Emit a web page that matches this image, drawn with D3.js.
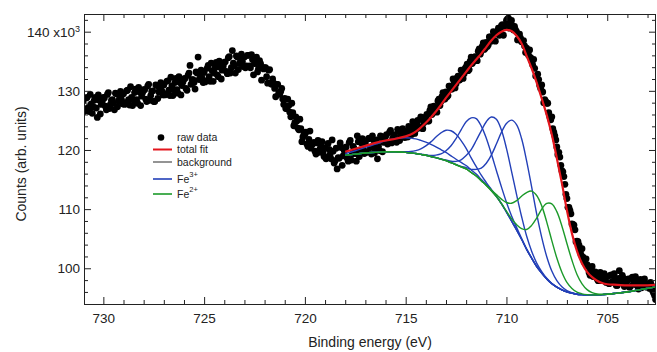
<!DOCTYPE html>
<html lang="en">
<head>
<meta charset="UTF-8">
<title>Fe 2p3/2 fit</title>
<script src="https://cdn.jsdelivr.net/npm/d3@7"></script>
<style>
    body { margin: 0; background: #fff; }
    svg { display: block; font-family: "Liberation Sans", Arial, sans-serif; }
    g.axis path.domain { display: none; }
    g.axis line { stroke: #222; }
    g.axis text { font-size: 13.5px; fill: #222; }
</style>
</head>
<body>
<svg width="657" height="352"></svg>
<script>
    // raw data, binding energy (eV) and counts (x10^3), two interleaved scans
    const rawEnergy = [
        731.0,730.9,730.8,730.7,730.6,730.5,730.4,730.3,730.2,730.1,
        730.0,729.9,729.8,729.7,729.6,729.5,729.4,729.3,729.2,729.1,
        729.0,728.9,728.8,728.7,728.6,728.5,728.4,728.3,728.2,728.1,
        728.0,727.9,727.8,727.7,727.6,727.5,727.4,727.3,727.2,727.1,
        727.0,726.9,726.8,726.7,726.6,726.5,726.4,726.3,726.2,726.1,
        726.0,725.9,725.8,725.7,725.6,725.5,725.4,725.3,725.2,725.1,
        725.0,724.9,724.8,724.7,724.6,724.5,724.4,724.3,724.2,724.1,
        724.0,723.9,723.8,723.7,723.6,723.5,723.4,723.3,723.2,723.1,
        723.0,722.9,722.8,722.7,722.6,722.5,722.4,722.3,722.2,722.1,
        722.0,721.9,721.8,721.7,721.6,721.5,721.4,721.3,721.2,721.1,
        721.0,720.9,720.8,720.7,720.6,720.5,720.4,720.3,720.2,720.1,
        720.0,719.9,719.8,719.7,719.6,719.5,719.4,719.3,719.2,719.1,
        719.0,718.9,718.8,718.7,718.6,718.5,718.4,718.3,718.2,718.1,
        718.0,717.9,717.8,717.7,717.6,717.5,717.4,717.3,717.2,717.1,
        717.0,716.9,716.8,716.7,716.6,716.5,716.4,716.3,716.2,716.1,
        716.0,715.9,715.8,715.7,715.6,715.5,715.4,715.3,715.2,715.1,
        715.0,714.9,714.8,714.7,714.6,714.5,714.4,714.3,714.2,714.1,
        714.0,713.9,713.8,713.7,713.6,713.5,713.4,713.3,713.2,713.1,
        713.0,712.9,712.8,712.7,712.6,712.5,712.4,712.3,712.2,712.1,
        712.0,711.9,711.8,711.7,711.6,711.5,711.4,711.3,711.2,711.1,
        711.0,710.9,710.8,710.7,710.6,710.5,710.4,710.3,710.2,710.1,
        710.0,709.9,709.8,709.7,709.6,709.5,709.4,709.3,709.2,709.1,
        709.0,708.9,708.8,708.7,708.6,708.5,708.4,708.3,708.2,708.1,
        708.0,707.9,707.8,707.7,707.6,707.5,707.4,707.3,707.2,707.1,
        707.0,706.9,706.8,706.7,706.6,706.5,706.4,706.3,706.2,706.1,
        706.0,705.9,705.8,705.7,705.6,705.5,705.4,705.3,705.2,705.1,
        705.0,704.9,704.8,704.7,704.6,704.5,704.4,704.3,704.2,704.1,
        704.0,703.9,703.8,703.7,703.6,703.5,703.4,703.3,703.2,703.1,
        703.0,702.9,702.8,702.7,702.6
    ];
    const rawCounts = [
        128.3,126.9,128.9,126.5,127.8,127.3,128.9,125.5,128.4,127.7,
        128.9,127.4,129.4,127.0,128.4,127.9,129.6,127.3,129.1,128.5,
        129.5,128.0,130.1,127.6,128.9,128.5,130.3,127.9,129.8,129.1,
        130.2,128.6,130.8,128.4,129.9,128.2,131.0,128.7,130.4,130.0,
        131.0,129.5,131.7,129.2,130.8,130.2,132.1,129.6,131.4,130.9,
        132.0,130.4,132.6,134.3,131.9,131.4,133.2,135.7,132.7,132.1,
        133.1,131.7,134.3,131.6,133.4,133.0,134.8,132.4,134.0,133.5,
        134.8,133.3,135.6,133.0,136.8,134.2,135.9,133.6,135.4,134.9,
        135.7,134.2,136.0,133.9,135.3,134.6,135.7,133.8,134.6,133.9,
        133.9,132.4,133.5,131.3,132.0,130.4,131.1,129.6,129.9,128.6,
        128.7,127.0,127.5,125.6,126.3,124.6,124.9,123.4,123.6,122.2,
        122.6,121.0,121.8,120.3,121.1,119.8,121.2,119.6,120.7,119.5,
        120.4,118.7,120.1,118.5,119.8,118.2,116.8,118.6,120.4,119.0,
        120.4,118.6,121.3,118.3,120.6,119.4,122.4,118.9,121.2,120.1,
        121.2,119.7,122.0,119.3,121.7,120.4,118.5,119.9,122.1,121.3,
        122.3,121.0,123.0,121.2,122.6,121.8,123.5,121.6,123.1,122.4,
        123.1,122.2,123.8,122.6,124.0,123.4,125.0,123.7,125.2,124.6,
        125.6,124.9,126.7,126.0,127.4,126.8,128.3,127.5,129.0,128.6,
        129.8,129.2,130.8,130.3,131.6,131.2,132.5,131.9,133.4,132.9,
        134.0,133.4,135.0,134.6,135.7,135.3,136.7,136.2,137.5,137.0,
        138.2,137.8,139.1,138.8,139.8,139.6,140.6,140.4,141.2,141.0,
        141.9,142.3,141.4,141.0,140.9,140.0,139.6,138.9,138.3,137.6,
        137.2,136.0,135.6,134.4,133.8,132.5,131.9,130.4,129.8,128.5,
        127.9,126.3,125.1,123.6,122.4,120.5,119.6,117.4,116.3,114.2,
        111.8,110.3,109.2,107.4,106.5,104.6,103.9,102.3,101.9,100.8,
        100.6,99.3,100.0,98.6,99.4,98.2,99.1,97.9,98.8,98.0,
        98.6,97.4,98.9,97.6,98.2,97.1,99.6,97.8,98.3,97.2,
        97.9,96.8,98.3,97.4,98.6,97.0,97.8,96.7,97.6,97.1,
        97.4,96.6,97.1,95.8,94.7
    ];
    const rawEnergy2 = [
        730.95,730.85,730.75,730.65,730.55,730.45,730.35,730.25,730.15,730.05,
        729.95,729.85,729.75,729.65,729.55,729.45,729.35,729.25,729.15,729.05,
        728.95,728.85,728.75,728.65,728.55,728.45,728.35,728.25,728.15,728.05,
        727.95,727.85,727.75,727.65,727.55,727.45,727.35,727.25,727.15,727.05,
        726.95,726.85,726.75,726.65,726.55,726.45,726.35,726.25,726.15,726.05,
        725.95,725.85,725.75,725.65,725.55,725.45,725.35,725.25,725.15,725.05,
        724.95,724.85,724.75,724.65,724.55,724.45,724.35,724.25,724.15,724.05,
        723.95,723.85,723.75,723.65,723.55,723.45,723.35,723.25,723.15,723.05,
        722.95,722.85,722.75,722.65,722.55,722.45,722.35,722.25,722.15,722.05,
        721.95,721.85,721.75,721.65,721.55,721.45,721.35,721.25,721.15,721.05,
        720.95,720.85,720.75,720.65,720.55,720.45,720.35,720.25,720.15,720.05,
        719.95,719.85,719.75,719.65,719.55,719.45,719.35,719.25,719.15,719.05,
        718.95,718.85,718.75,718.65,718.55,718.45,718.35,718.25,718.15,718.05,
        717.95,717.85,717.75,717.65,717.55,717.45,717.35,717.25,717.15,717.05,
        716.95,716.85,716.75,716.65,716.55,716.45,716.35,716.25,716.15,716.05,
        715.95,715.85,715.75,715.65,715.55,715.45,715.35,715.25,715.15,715.05,
        714.95,714.85,714.75,714.65,714.55,714.45,714.35,714.25,714.15,714.05,
        713.95,713.85,713.75,713.65,713.55,713.45,713.35,713.25,713.15,713.05,
        712.95,712.85,712.75,712.65,712.55,712.45,712.35,712.25,712.15,712.05,
        711.95,711.85,711.75,711.65,711.55,711.45,711.35,711.25,711.15,711.05,
        710.95,710.85,710.75,710.65,710.55,710.45,710.35,710.25,710.15,710.05,
        709.95,709.85,709.75,709.65,709.55,709.45,709.35,709.25,709.15,709.05,
        708.95,708.85,708.75,708.65,708.55,708.45,708.35,708.25,708.15,708.05,
        707.95,707.85,707.75,707.65,707.55,707.45,707.35,707.25,707.15,707.05,
        706.95,706.85,706.75,706.65,706.55,706.45,706.35,706.25,706.15,706.05,
        705.95,705.85,705.75,705.65,705.55,705.45,705.35,705.25,705.15,705.05,
        704.95,704.85,704.75,704.65,704.55,704.45,704.35,704.25,704.15,704.05,
        703.95,703.85,703.75,703.65,703.55,703.45,703.35,703.25,703.15,703.05,
        702.95,702.85,702.75,702.65
    ];
    const rawCounts2 = [
        126.5,128.8,127.2,129.4,126.2,128.4,127.1,129.3,126.1,128.3,
        128.8,126.8,129.7,127.7,128.5,126.8,129.5,128.3,129.9,127.8,
        127.7,130.0,128.5,130.7,127.5,129.7,128.5,130.6,127.5,129.7,
        130.2,128.2,131.1,129.2,130.0,128.2,130.9,129.8,131.4,129.3,
        129.3,131.6,130.1,132.3,129.2,131.4,130.2,132.4,129.3,131.5,
        132.1,130.1,133.0,131.1,131.9,130.3,133.0,131.9,133.5,131.4,
        131.5,133.8,132.4,134.7,131.6,133.9,132.7,135.0,132.0,134.2,
        134.9,132.9,135.8,133.9,134.7,133.0,135.7,134.6,136.2,134.1,
        133.9,136.0,134.2,136.1,132.7,134.7,133.2,135.1,131.8,133.7,
        133.9,131.3,133.6,131.1,131.3,129.0,131.1,129.4,130.4,127.7,
        127.0,128.6,126.4,127.9,124.1,125.6,123.7,125.2,121.4,122.9,
        123.0,120.6,123.2,120.9,121.3,119.3,121.6,120.2,121.4,118.9,
        118.5,121.1,119.2,121.7,117.8,120.3,118.7,121.2,117.4,119.9,
        120.5,118.1,121.6,119.3,120.2,118.1,121.4,120.0,121.9,119.4,
        119.6,121.9,120.4,122.4,119.5,121.7,120.6,122.4,119.7,121.8,
        122.6,121.2,123.3,121.9,122.5,121.3,123.2,122.5,123.6,122.1,
        122.2,124.0,123.1,124.8,122.8,124.5,123.9,125.6,123.6,125.3,
        126.0,124.9,127.3,126.3,127.2,126.4,128.6,128.2,129.7,128.6,
        129.0,130.8,130.3,132.0,130.5,132.2,131.8,133.5,132.1,133.8,
        134.5,133.6,135.7,134.9,135.8,135.1,137.1,136.7,138.1,137.2,
        137.5,139.1,138.4,140.0,138.4,139.9,139.4,141.0,139.4,140.9,
        142.1,140.6,141.9,140.3,140.3,138.6,139.6,138.3,138.5,136.5,
        136.4,136.9,135.1,135.3,132.5,132.8,130.9,131.0,128.0,128.2,
        127.9,125.6,125.6,123.0,121.7,119.2,118.8,116.5,115.5,112.5,
        110.3,109.8,107.5,107.3,104.5,104.5,103.1,103.3,101.1,101.6,
        100.3,98.8,100.3,99.0,99.2,97.9,99.3,98.4,99.1,97.6,
        97.5,98.8,97.8,99.1,97.1,98.3,97.6,98.8,96.9,98.1,
        98.2,96.9,98.5,97.3,97.7,96.5,98.1,97.3,98.2,96.8,
        96.9,97.6,96.2,95.4
    ];

    // fit curves, sampled on one energy grid
    const fitEnergy = [718,717.5,717,716.5,716,715.5,715,714.75,714.5,714.25,714,713.75,713.5,713.25,713,712.75,
        712.5,712.25,712,711.75,711.5,711.25,711,710.75,710.5,710.25,710,709.75,709.5,709.25,709,708.75,
        708.5,708.25,708,707.75,707.5,707.25,707,706.75,706.5,706.25,706,705.75,705.5,705.25,705,704.5,
        704,703.5,703,702.5];
    const totalFit = [119.7,120.2,120.7,121.2,121.6,121.9,122.3,122.6,123.1,123.8,124.6,125.5,126.5,127.6,128.8,129.9,
        131.0,132.1,133.2,134.3,135.3,136.3,137.4,138.5,139.4,140.0,140.3,140.1,139.3,138.0,135.9,133.8,
        131.4,128.7,125.9,122.6,118.6,114.4,109.8,105.9,102.9,100.8,99.4,98.5,97.9,97.5,97.3,97.2,
        97.1,97.1,97.1,97.2];
    const background = [119.1,119.3,119.5,119.6,119.7,119.7,119.6,119.5,119.4,119.25,119.1,118.9,118.7,118.45,118.2,117.85,
        117.5,117.15,116.8,116.2,115.6,114.8,114.0,113.1,112.1,110.9,109.5,108.0,106.5,104.9,103.2,101.7,
        100.3,99.2,98.2,97.4,96.8,96.35,96.0,95.8,95.6,95.55,95.5,95.5,95.5,95.55,95.6,95.8,
        96.0,96.3,96.6,96.9];
    const fe3a = [119.4,119.87,120.43,120.98,121.54,121.94,122.07,122.0,121.87,121.63,121.34,120.96,120.54,120.06,119.58,119.0,
        118.43,117.89,117.37,116.63,115.92,115.03,114.16,113.21,112.18,110.95,109.53,108.0,106.5,104.9,103.2,101.7,
        100.3,99.2,98.2,97.4,96.8,96.35,96.0,95.8,95.6,95.55,95.5,95.5,95.5,95.55,95.6,95.8,
        96.0,96.3,96.6,96.9];
    const fe3b = [119.1,119.3,119.5,119.6,119.7,119.72,119.7,119.74,119.89,120.18,120.69,121.37,122.18,122.89,123.34,123.25,
        122.64,121.59,120.28,118.67,117.19,115.73,114.49,113.34,112.2,110.94,109.5,108.0,106.5,104.9,103.2,101.7,
        100.3,99.2,98.2,97.4,96.8,96.35,96.0,95.8,95.6,95.55,95.5,95.5,95.5,95.55,95.6,95.8,
        96.0,96.3,96.6,96.9];
    const fe3c = [119.1,119.3,119.5,119.6,119.7,119.7,119.6,119.5,119.41,119.28,119.17,119.08,119.13,119.33,119.87,120.71,
        121.94,123.4,124.78,125.43,125.3,124.03,121.98,119.35,116.54,113.76,111.17,108.88,106.93,105.08,103.27,101.73,
        100.3,99.2,98.2,97.4,96.8,96.35,96.0,95.8,95.6,95.55,95.5,95.5,95.5,95.55,95.6,95.8,
        96.0,96.3,96.6,96.9];
    const fe3d = [119.1,119.3,119.5,119.6,119.7,119.7,119.6,119.5,119.4,119.25,119.1,118.9,118.71,118.49,118.3,118.1,
        118.08,118.34,119.05,120.06,121.6,123.24,124.78,125.57,125.2,123.37,120.28,116.44,112.5,108.76,105.45,102.89,
        100.88,99.45,98.3,97.44,96.8,96.35,96.0,95.8,95.6,95.55,95.5,95.5,95.5,95.55,95.6,95.8,
        96.0,96.3,96.6,96.9];
    const fe3e = [119.1,119.3,119.5,119.6,119.7,119.7,119.6,119.5,119.4,119.25,119.1,118.9,118.7,118.45,118.2,117.85,
        117.54,117.24,117.03,116.73,116.72,116.94,117.76,119.13,121.0,122.97,124.47,125.05,124.3,121.95,118.17,113.77,
        109.2,105.23,101.96,99.54,97.92,96.88,96.23,95.89,95.64,95.55,95.5,95.5,95.5,95.55,95.6,95.8,
        96.0,96.3,96.6,96.9];
    const fe2a = [119.1,119.3,119.5,119.6,119.7,119.7,119.6,119.5,119.4,119.25,119.1,118.9,118.7,118.45,118.2,117.85,
        117.5,117.15,116.8,116.2,115.6,114.8,114.05,113.23,112.45,111.69,111.12,110.99,111.43,112.18,112.81,113.05,
        112.3,110.55,107.81,104.68,101.73,99.34,97.62,96.59,95.95,95.68,95.55,95.5,95.5,95.55,95.6,95.8,
        96.0,96.3,96.6,96.9];
    const fe2b = [119.1,119.3,119.5,119.6,119.7,119.7,119.6,119.5,119.4,119.25,119.1,118.9,118.7,118.45,118.2,117.85,
        117.5,117.15,116.8,116.2,115.6,114.8,114.0,113.11,112.12,110.95,109.65,108.39,107.39,106.72,106.56,107.25,
        108.49,110.01,110.97,110.9,109.57,107.16,104.19,101.35,98.96,97.37,96.39,95.89,95.65,95.6,95.62,95.8,
        96.0,96.3,96.6,96.9];

    const xMajor = [730, 725, 720, 715, 710, 705];
    const yMajor = [100, 110, 120, 130, 140];
    const legendLabels = ["raw data", "total fit", "background", "Fe", "Fe"];
    const legendSup = ["", "", "", "3+", "2+"];

    const RED = "#e3151c", GRAY = "#7a7a7a", BLUE = "#2340b8", GREEN = "#1c9a2a";

    const svg = d3.select("svg");
    const plotLeft = 84, plotRight = 656, plotTop = 14, plotBottom = 304;

    const x = d3.scaleLinear().domain([730.96, 702.58]).range([plotLeft, plotRight]);
    const y = d3.scaleLinear().domain([93.96, 142.99]).range([plotBottom, plotTop]);

    svg.append("clipPath").attr("id", "plot")
        .append("rect").attr("x", plotLeft).attr("y", plotTop)
        .attr("width", plotRight - plotLeft).attr("height", plotBottom - plotTop);

    const plot = svg.append("g").attr("clip-path", "url(#plot)");

    // raw data points
    const raw = rawEnergy.map((e, i) => [e, rawCounts[i]])
        .concat(rawEnergy2.map((e, i) => [e, rawCounts2[i]]));
    plot.selectAll("circle")
        .data(raw)
        .join("circle")
        .attr("cx", d => x(d[0]))
        .attr("cy", d => y(d[1]))
        .attr("r", 3.4)
        .attr("fill", "#000");

    const line = d3.line()
        .x(d => x(d[0]))
        .y(d => y(d[1]))
        .curve(d3.curveCatmullRom.alpha(0.5));
    const pts = vals => fitEnergy.map((e, i) => [e, vals[i]]);

    const curves = [
        [background, GRAY, 1.2],
        [fe3a, BLUE, 1.4], [fe3b, BLUE, 1.4], [fe3c, BLUE, 1.4], [fe3d, BLUE, 1.4], [fe3e, BLUE, 1.4],
        [fe2a, GREEN, 1.4], [fe2b, GREEN, 1.4],
        [totalFit, RED, 2.2]
    ];
    plot.selectAll("path.fit")
        .data(curves)
        .join("path")
        .attr("class", "fit")
        .attr("d", d => line(pts(d[0])))
        .attr("fill", "none")
        .attr("stroke", d => d[1])
        .attr("stroke-width", d => d[2])
        .attr("stroke-linejoin", "round");

    // axes, ticks pointing inward on all four sides
    const xMinor = d3.range(703, 731).filter(v => v % 5 !== 0);
    const yMinor = d3.range(96, 143, 2).filter(v => v % 10 !== 0);

    svg.append("g").attr("class", "axis")
        .attr("transform", `translate(0,${plotBottom})`)
        .call(d3.axisBottom(x).tickValues(xMajor).tickSize(-7).tickPadding(9).tickFormat(d3.format("d")));
    svg.append("g").attr("class", "axis")
        .attr("transform", `translate(0,${plotBottom})`)
        .call(d3.axisBottom(x).tickValues(xMinor).tickSize(-4).tickFormat(""));
    svg.append("g").attr("class", "axis")
        .attr("transform", `translate(0,${plotTop})`)
        .call(d3.axisTop(x).tickValues(xMajor).tickSize(-7).tickFormat(""));
    svg.append("g").attr("class", "axis")
        .attr("transform", `translate(0,${plotTop})`)
        .call(d3.axisTop(x).tickValues(xMinor).tickSize(-4).tickFormat(""));

    const yAxis = svg.append("g").attr("class", "axis")
        .attr("transform", `translate(${plotLeft},0)`)
        .call(d3.axisLeft(y).tickValues(yMajor).tickSize(-7).tickPadding(4).tickFormat(d3.format("d")));
    svg.append("g").attr("class", "axis")
        .attr("transform", `translate(${plotLeft},0)`)
        .call(d3.axisLeft(y).tickValues(yMinor).tickSize(-4).tickFormat(""));
    svg.append("g").attr("class", "axis")
        .attr("transform", `translate(${plotRight},0)`)
        .call(d3.axisRight(y).tickValues(yMajor).tickSize(-7).tickFormat(""));
    svg.append("g").attr("class", "axis")
        .attr("transform", `translate(${plotRight},0)`)
        .call(d3.axisRight(y).tickValues(yMinor).tickSize(-4).tickFormat(""));

    // "140 x10^3" on the top label
    yAxis.selectAll(".tick text").filter(d => d === 140)
        .text("140 x10")
        .append("tspan").attr("dy", "-0.55em").attr("font-size", "9px").text("3");

    svg.append("rect")
        .attr("x", plotLeft + 0.5).attr("y", plotTop + 0.5)
        .attr("width", plotRight - plotLeft - 1).attr("height", plotBottom - plotTop)
        .attr("fill", "none").attr("stroke", "#222").attr("stroke-width", 1);

    // axis titles
    svg.append("text")
        .attr("x", (plotLeft + plotRight) / 2).attr("y", 347)
        .attr("text-anchor", "middle").attr("font-size", "14px").attr("fill", "#222")
        .text("Binding energy (eV)");
    svg.append("text")
        .attr("transform", "translate(26,164) rotate(-90)")
        .attr("text-anchor", "middle").attr("font-size", "14px").attr("fill", "#222")
        .text("Counts (arb. units)");

    // legend
    const legendY = [137.5, 149.5, 162, 179, 194];
    const legendColor = ["#000", RED, GRAY, BLUE, GREEN];
    const legend = svg.append("g");
    legendLabels.forEach((label, i) => {
        if (i === 0) {
            legend.append("circle").attr("cx", 161).attr("cy", legendY[i]).attr("r", 3.3).attr("fill", "#000");
        } else {
            legend.append("line")
                .attr("x1", 153).attr("x2", 172)
                .attr("y1", legendY[i]).attr("y2", legendY[i])
                .attr("stroke", legendColor[i]).attr("stroke-width", i === 1 ? 2 : 1.6);
        }
        const t = legend.append("text")
            .attr("x", 177).attr("y", legendY[i]).attr("dy", "0.36em")
            .attr("font-size", "10.5px").attr("fill", "#222")
            .text(label);
        if (legendSup[i]) {
            t.append("tspan").attr("dy", "-0.75em").attr("font-size", "7.5px").text(legendSup[i]);
        }
    });
</script>
</body>
</html>
